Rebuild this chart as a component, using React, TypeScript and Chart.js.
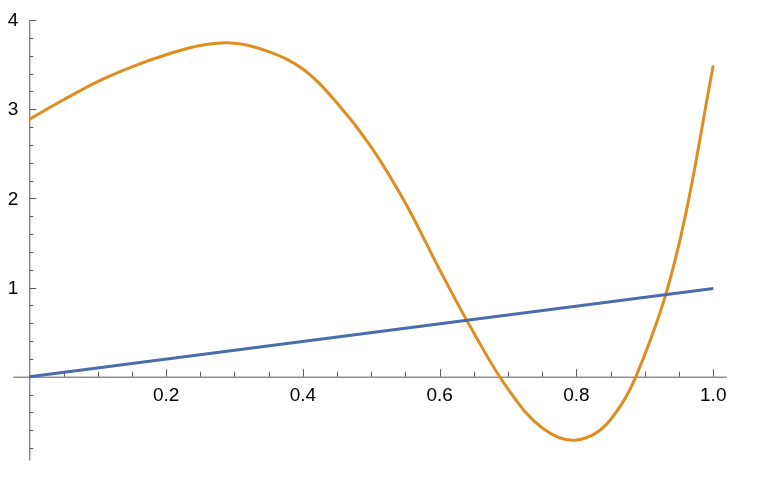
import React, { useEffect, useRef } from "react";
import { Chart, registerables } from "chart.js";

Chart.register(...registerables);

// Blue series: straight line
const blueX = [0, 1];
const blueY = [0, 0.99];

// Orange series
const orangeX = [
  0.0, 0.05, 0.1, 0.15, 0.2, 0.25, 0.3, 0.35, 0.4, 0.45, 0.5, 0.55, 0.6, 0.65,
  0.7, 0.75, 0.8, 0.85, 0.9, 0.95, 1.0,
];
const orangeY = [
  2.886, 3.105, 3.31, 3.475, 3.61, 3.715, 3.74, 3.645, 3.45, 3.07, 2.575, 1.945,
  1.2, 0.49, -0.14, -0.575, -0.71, -0.48, 0.25, 1.49, 3.49,
];

// Axis ticks
const xMajorTicks = [0.2, 0.4, 0.6, 0.8, 1.0];
const xTickLabels = ["0.2", "0.4", "0.6", "0.8", "1.0"];
const xMinorTicks = [0.05, 0.1, 0.15, 0.25, 0.3, 0.35, 0.45, 0.5, 0.55, 0.65, 0.7, 0.75, 0.85, 0.9, 0.95];
const yMajorTicks = [1, 2, 3, 4];
const yTickLabels = ["1", "2", "3", "4"];
const yMinorTicks = [-0.8, -0.6, -0.4, -0.2, 0.2, 0.4, 0.6, 0.8, 1.2, 1.4, 1.6, 1.8, 2.2, 2.4, 2.6, 2.8, 3.2, 3.4, 3.6, 3.8];

const X_MIN = -0.0234;
const X_MAX = 1.0195;
const Y_MIN = -0.94;
const Y_MAX = 4.0;

const axesPlugin = {
  id: "mmaAxes",
  beforeDatasetsDraw(chart: any) {
    const { ctx, scales } = chart;
    const xs = scales.x;
    const ys = scales.y;
    const x0 = xs.getPixelForValue(0);
    const y0 = ys.getPixelForValue(0);
    ctx.save();
    ctx.strokeStyle = "#5a5a5a";
    ctx.lineWidth = 1;
    ctx.beginPath();
    ctx.moveTo(xs.getPixelForValue(X_MIN), y0 + 0.5);
    ctx.lineTo(xs.getPixelForValue(X_MAX), y0 + 0.5);
    ctx.stroke();
    ctx.beginPath();
    ctx.moveTo(x0 + 0.5, ys.getPixelForValue(Y_MAX));
    ctx.lineTo(x0 + 0.5, ys.getPixelForValue(Y_MIN));
    ctx.stroke();
    ctx.beginPath();
    for (const v of xMajorTicks) {
      const px = Math.round(xs.getPixelForValue(v)) + 0.5;
      ctx.moveTo(px, y0);
      ctx.lineTo(px, y0 - 7.5);
    }
    for (const v of xMinorTicks) {
      const px = Math.round(xs.getPixelForValue(v)) + 0.5;
      ctx.moveTo(px, y0);
      ctx.lineTo(px, y0 - 5);
    }
    for (const v of yMajorTicks) {
      const py = Math.round(ys.getPixelForValue(v)) + 0.5;
      ctx.moveTo(x0, py);
      ctx.lineTo(x0 + 7, py);
    }
    for (const v of yMinorTicks) {
      const py = Math.round(ys.getPixelForValue(v)) + 0.5;
      ctx.moveTo(x0, py);
      ctx.lineTo(x0 + 4, py);
    }
    ctx.stroke();
    ctx.fillStyle = "#000";
    ctx.font = '19px "Liberation Sans", Arial, sans-serif';
    ctx.textAlign = "center";
    ctx.textBaseline = "middle";
    xMajorTicks.forEach((v, i) => {
      ctx.fillText(xTickLabels[i], xs.getPixelForValue(v), y0 + 19);
    });
    ctx.textAlign = "right";
    yMajorTicks.forEach((v, i) => {
      ctx.fillText(yTickLabels[i], x0 - 11, ys.getPixelForValue(v) + 1);
    });
    ctx.restore();
  },
};

export default function App() {
  const ref = useRef<HTMLCanvasElement | null>(null);
  useEffect(() => {
    if (!ref.current) return;
    const chart = new Chart(ref.current, {
      type: "line",
      data: {
        datasets: [
          {
            data: blueX.map((x, i) => ({ x, y: blueY[i] })),
            borderColor: "rgb(74,108,170)",
            borderWidth: 3,
            pointRadius: 0,
            fill: false,
          },
          {
            data: orangeX.map((x, i) => ({ x, y: orangeY[i] })),
            borderColor: "rgb(222,142,30)",
            borderWidth: 3,
            pointRadius: 0,
            fill: false,
            tension: 0.38,
          },
        ],
      },
      options: {
        animation: false,
        responsive: true,
        maintainAspectRatio: false,
        clip: false as any,
        layout: { padding: { left: 13.3, right: 47.4, top: 20, bottom: 31.5 } },
        plugins: { legend: { display: false }, tooltip: { enabled: false } },
        scales: {
          x: { type: "linear", min: X_MIN, max: X_MAX, display: false },
          y: { type: "linear", min: Y_MIN, max: Y_MAX, display: false },
        },
      },
      plugins: [axesPlugin],
    });
    return () => chart.destroy();
  }, []);
  return (
    <div style={{ position: "absolute", left: 0, top: 0, width: 774, height: 492, background: "#fff" }}>
      <canvas ref={ref} />
    </div>
  );
}
